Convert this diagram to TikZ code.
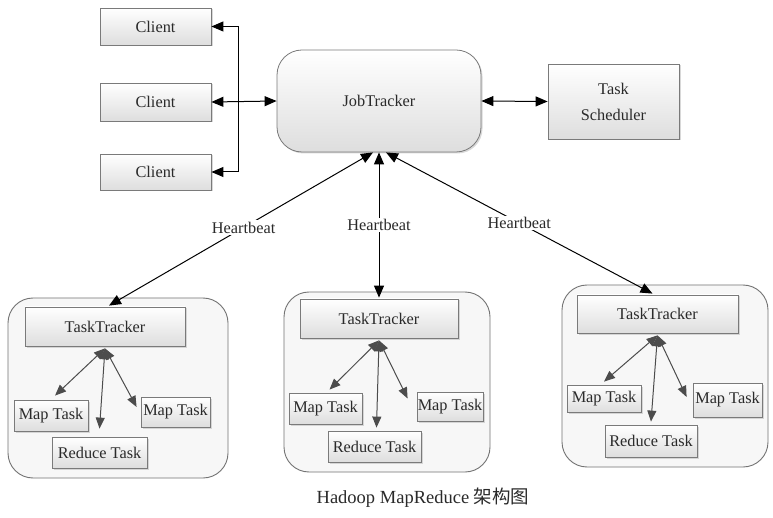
\documentclass[tikz,border=0pt]{standalone}
\usepackage{fontspec}
\setmainfont{Liberation Serif}
\newfontfamily\cjk{Noto Sans CJK SC}
\usetikzlibrary{arrows.meta,shadows,calc}
\definecolor{txt}{HTML}{2A2A2A}
\definecolor{edge}{HTML}{7A7A7A}
\begin{document}
\begin{tikzpicture}[x=1pt,y=-1pt,
  every node/.style={text=txt, font=\fontsize{16.3}{18}\selectfont},
  box/.style={draw=edge, line width=0.8pt, top color=white, bottom color=black!13,
    inner sep=0pt, align=center,
    drop shadow={shadow xshift=1.5pt, shadow yshift=-1.5pt, fill=black!25, opacity=0.6}},
  outer/.style={draw=black!55, line width=0.9pt, fill=black!3, rounded corners=25pt, inner sep=0pt},
  bigarrow/.style={line width=1pt, black, {Triangle[length=12pt,width=10pt]}-{Triangle[length=12pt,width=10pt]}},
  smallarrow/.style={line width=1pt, black!70, {Triangle[length=11pt,width=9pt]}-{Triangle[length=11pt,width=9pt]}},
  hb/.style={fill=white, inner sep=1.5pt}
]
\useasboundingbox[fill=white] (0,0) rectangle (773,518);

% clients
\node[box, minimum width=111pt, minimum height=37pt] (c1) at (155.5,26.5) {Client};
\node[box, minimum width=111pt, minimum height=38pt] (c2) at (155.5,102) {Client};
\node[box, minimum width=111pt, minimum height=36pt] (c3) at (155.5,172) {Client};

% JobTracker and scheduler
\node[box, rounded corners=25pt, minimum width=204pt, minimum height=102pt] (jt) at (379,101) {JobTracker};
\node[box, minimum width=131pt, minimum height=75pt, font=\fontsize{16.3}{26}\selectfont] (ts) at (613.5,101.5) {Task\\Scheduler};

\coordinate (bt) at (238,26.5);
\coordinate (bb) at (238,172);
\draw[bigarrow] (c1.east) -- (bt) -- (bb) -- (c3.east);
\draw[bigarrow] (c2.east) -- (jt.west);
\draw[bigarrow] (jt.east) -- (ts.west);

% outer containers
\node[outer, minimum width=220pt, minimum height=180pt] (o1) at (118,388) {};
\node[outer, minimum width=206pt, minimum height=180pt] (o2) at (387,382) {};
\node[outer, minimum width=206pt, minimum height=182pt] (o3) at (665,376) {};

% task trackers
\node[box, minimum width=160pt, minimum height=39pt] (t1) at (105,326.5) {TaskTracker};
\node[box, minimum width=158pt, minimum height=39pt] (t2) at (379,318.5) {TaskTracker};
\node[box, minimum width=161pt, minimum height=38pt] (t3) at (657.5,314) {TaskTracker};

% left tasks
\node[box, minimum width=74pt, minimum height=31pt] (l1) at (51,415.5) {Map Task};
\node[box, minimum width=69pt, minimum height=30pt] (l2) at (175.5,412) {Map Task};
\node[box, minimum width=95pt, minimum height=31pt] (lr) at (99.5,452.5) {Reduce Task};
% middle tasks
\node[box, minimum width=73pt, minimum height=31pt] (n1) at (325.5,408.5) {Map Task};
\node[box, minimum width=66pt, minimum height=29pt] (n2) at (450,406.5) {Map Task};
\node[box, minimum width=93pt, minimum height=31pt] (nr) at (374.5,446.5) {Reduce Task};
% right tasks
\node[box, minimum width=74pt, minimum height=27pt] (r1) at (604,398.5) {Map Task};
\node[box, minimum width=69pt, minimum height=34pt] (r2) at (727.5,400) {Map Task};
\node[box, minimum width=92pt, minimum height=32pt] (rr) at (651,441) {Reduce Task};

% heartbeats
\draw[bigarrow] ($(jt.south)+(-6,0)$) -- node[hb, pos=0.49] {Heartbeat} ($(t1.north)+(4,-1)$);
\draw[bigarrow] (jt.south) -- node[hb, pos=0.5] {Heartbeat} ($(t2.north)+(0,-1)$);
\draw[bigarrow] ($(jt.south)+(7,0)$) -- node[hb, pos=0.5] {Heartbeat} ($(t3.north)+(-5,-1)$);

% inner arrows
\draw[smallarrow] ($(t1.south)+(0,2)$) -- ($(l1.north)+(4,-4)$);
\draw[smallarrow] ($(t1.south)+(0,2)$) -- ($(lr.north)+(0,-8)$);
\draw[smallarrow] ($(t1.south)+(0,2)$) -- ($(l2.west)+(-4,-5)$);
\draw[smallarrow] ($(t2.south)+(0,2)$) -- ($(n1.north)+(4,-3)$);
\draw[smallarrow] ($(t2.south)+(0,2)$) -- ($(nr.north)+(2,-3)$);
\draw[smallarrow] ($(t2.south)+(0,2)$) -- ($(n2.west)+(-9,-8)$);
\draw[smallarrow] ($(t3.south)+(0,2)$) -- ($(r1.north)+(0,-3)$);
\draw[smallarrow] ($(t3.south)+(0,2)$) -- ($(rr.north)+(0,-3)$);
\draw[smallarrow] ($(t3.south)+(0,2)$) -- ($(r2.west)+(-6,-3)$);

% caption
\node[font=\fontsize{18.5}{21}\selectfont] (cap) at (423,498) {Hadoop MapReduce {\cjk 架构图}};
\end{tikzpicture}
\end{document}
